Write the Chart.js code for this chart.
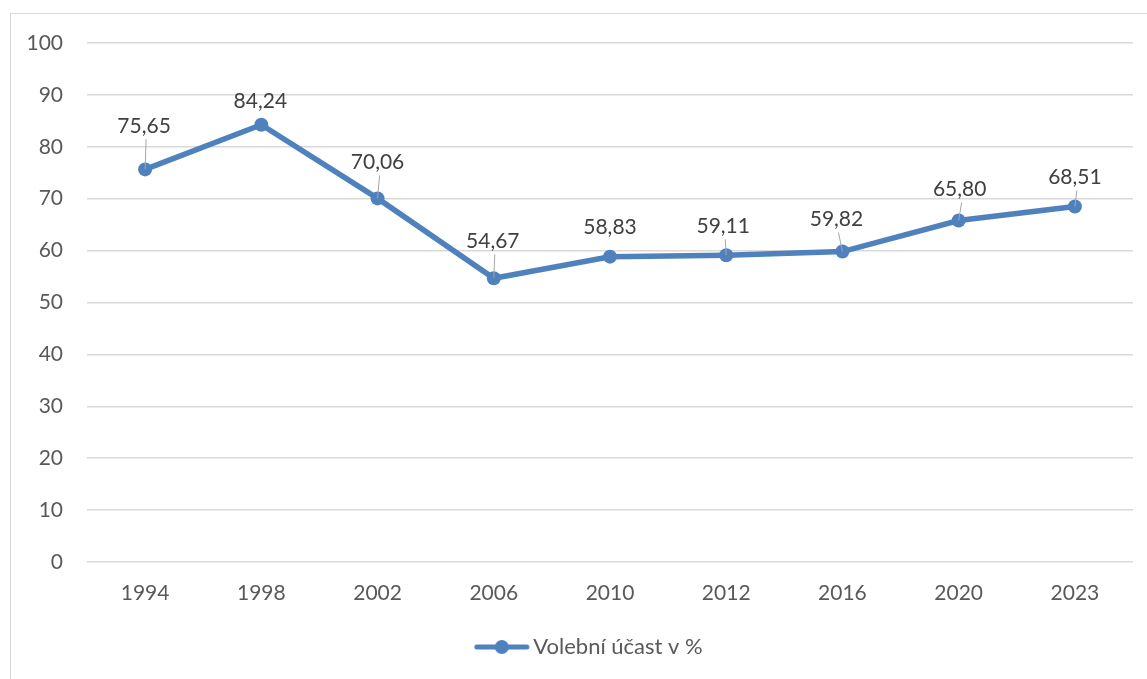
<!DOCTYPE html>
<html>
<head>
<meta charset="utf-8">
<script src="https://cdn.jsdelivr.net/npm/chart.js@4/dist/chart.umd.min.js"></script>
<style>
  html, body { margin: 0; padding: 0; background: #fff; }
  #box {
    position: absolute; left: 10px; top: 13px;
    width: 1150px; height: 680px;
    border: 1px solid #d9d9d9; box-sizing: border-box;
  }
  #wrap { position: absolute; left: 0; top: 0; width: 1140px; height: 666px; }
</style>
</head>
<body>
<div id="box"><div id="wrap"><canvas id="graf"></canvas></div></div>
<script>
// Data
const roky = ['1994', '1998', '2002', '2006', '2010', '2012', '2016', '2020', '2023'];
const ucast = [75.65, 84.24, 70.06, 54.67, 58.83, 59.11, 59.82, 65.80, 68.51];
const yTicks = [0, 10, 20, 30, 40, 50, 60, 70, 80, 90, 100];

const modra = '#4f81bd';
const pismo = 'Lato, "Open Sans", sans-serif';
const velikost = 21;

// legend symbol: line with circle, drawn right of the image centre
// so that the whole legend item sits like in the original
function legendSymbol() {
  const c = document.createElement('canvas');
  c.width = 110; c.height = 16;
  const g = c.getContext('2d');
  g.strokeStyle = modra; g.lineWidth = 5; g.lineCap = 'round';
  g.beginPath(); g.moveTo(50, 8); g.lineTo(100, 8); g.stroke();
  g.fillStyle = modra;
  g.beginPath(); g.arc(75, 8, 7, 0, Math.PI * 2); g.fill();
  return c;
}

// popisky hodnot nad body
const popisky = {
  id: 'popisky',
  afterDatasetsDraw(chart, args, opts) {
    const ctx = chart.ctx;
    const meta = chart.getDatasetMeta(0);
    ctx.save();
    ctx.font = velikost + 'px ' + pismo;
    ctx.textAlign = 'center';
    ctx.textBaseline = 'middle';
    meta.data.forEach((pt, i) => {
      const lx = pt.x + opts.dx[i];
      const ly = pt.y - opts.lift[i];
      if (opts.leader[i]) {
        ctx.strokeStyle = '#a6a6a6';
        ctx.lineWidth = 1;
        ctx.beginPath();
        ctx.moveTo(lx + 2, ly + 13);
        ctx.lineTo(pt.x, pt.y);
        ctx.stroke();
      }
      ctx.fillStyle = '#404040';
      ctx.fillText(ucast[i].toFixed(2).replace('.', ','), lx, ly);
    });
    ctx.restore();
  }
};

new Chart(document.getElementById('graf'), {
  type: 'line',
  data: {
    labels: roky,
    datasets: [{
      label: 'Volební účast v %',
      data: ucast,
      borderColor: modra,
      backgroundColor: modra,
      borderWidth: 5.5,
      pointRadius: 7,
      pointHoverRadius: 7,
      pointBackgroundColor: modra,
      pointBorderWidth: 0,
      tension: 0
    }]
  },
  options: {
    responsive: true,
    maintainAspectRatio: false,
    animation: false,
    layout: { padding: { top: 29, right: 18, bottom: 12, left: 0 } },
    plugins: {
      legend: {
        position: 'bottom',
        labels: {
          usePointStyle: true,
          pointStyleWidth: 81,
          color: '#595959',
          font: { family: pismo, size: 22 },
          padding: 10,
          generateLabels: (chart) => [{
            text: chart.data.datasets[0].label,
            pointStyle: legendSymbol(),
            fillStyle: modra,
            strokeStyle: modra,
            lineWidth: 0,
            fontColor: '#595959',
            datasetIndex: 0
          }]
        }
      },
      tooltip: { enabled: false },
      popisky: {
        lift: [43, 24, 36, 37, 29, 29, 32, 31, 29],
        dx: [-1, -1, 0, -1, 0, -3, -6, 1, 0],
        leader: [true, false, true, true, false, true, true, true, true]
      }
    },
    scales: {
      x: {
        offset: true,
        grid: { display: false, drawTicks: false },
        border: { display: false },
        ticks: { color: '#595959', font: { family: pismo, size: velikost }, padding: 19 },
        afterFit: (s) => { s.height = 64; }
      },
      y: {
        min: 0,
        max: 100,
        afterBuildTicks: (s) => { s.ticks = yTicks.map(v => ({ value: v })); },
        grid: { color: '#d9d9d9', lineWidth: 1.5, drawTicks: false },
        border: { display: false },
        ticks: { color: '#595959', font: { family: pismo, size: velikost }, padding: 24 },
        afterFit: (s) => { s.width = 76; s.paddingTop = 0; s.paddingBottom = 0; }
      }
    }
  },
  plugins: [popisky]
});
</script>
</body>
</html>
